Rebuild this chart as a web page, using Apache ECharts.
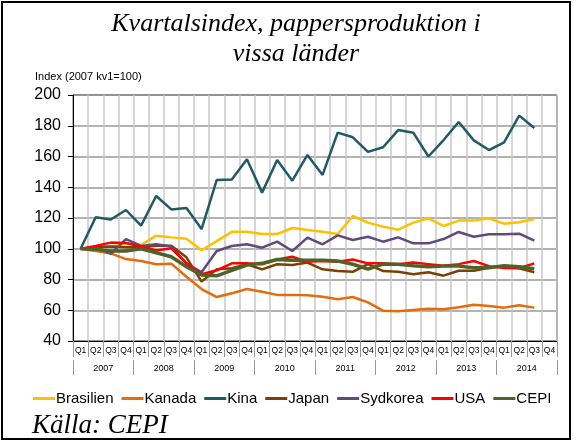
<!DOCTYPE html>
<html>
<head>
<meta charset="utf-8">
<script src="https://cdn.jsdelivr.net/npm/echarts@6/dist/echarts.min.js"></script>
<style>
  html, body { margin: 0; padding: 0; background: #fff; }
  #chart { width: 573px; height: 442px; }
</style>
</head>
<body>
<div id="chart"></div>
<script>
// kategorier
const years = ['2007', '2008', '2009', '2010', '2011', '2012', '2013', '2014']
const quarters = []
years.forEach(() => quarters.push('Q1', 'Q2', 'Q3', 'Q4'))

// serier (index 2007 kv1 = 100), Q4 2014 saknas
const brasilien = [100, 101, 101.4, 103.5, 102.4, 108.5, 107.4, 106.5, 99, 105, 111, 111, 109.6, 109.6, 113.5, 112.2,
  111, 109.6, 121.3, 117, 114.4, 112.4, 117, 119.8, 114.8, 118.3, 118.3, 119.8, 116.3, 117.2, 119.4]
const kanada = [100, 98.5, 97, 93.3, 92, 89.9, 90.3, 81.8, 73.8, 68.6, 71, 73.8, 72, 70, 70, 69.7,
  68.8, 67.1, 68.6, 65.1, 59.7, 59.3, 60.2, 61, 60.6, 61.9, 63.6, 62.7, 61.7, 63.2, 61.7]
const kina = [100, 120.5, 119, 125.2, 115, 134.3, 125.6, 126.5, 112.8, 144.7, 145, 158.2, 136.5, 157.7, 144.3, 161,
  148, 175.5, 172.5, 163, 166, 177.2, 175.5, 160, 170.7, 182.4, 170.5, 164.2, 169.2, 186.6, 178.5]
const japan = [100, 101, 101.4, 101, 101, 102, 102, 94.4, 78.6, 86.6, 87.3, 89.9, 86.6, 89.9, 89.4, 91,
  86.6, 85.5, 85, 90, 85.5, 85, 83.4, 84.7, 82.5, 85.7, 85.7, 87.7, 88.7, 87.3, 84.7]
const sydkorea = [100, 101, 96.6, 106.3, 101.8, 102.9, 101.4, 90.5, 84.7, 98.5, 101.8, 102.9, 100.7, 104.6, 98.5, 107.2,
  102.9, 108.7, 105.7, 107.8, 104.6, 107.4, 103.5, 103.5, 106.3, 110.9, 107.8, 109.4, 109.4, 109.8, 105.3]
const usa = [100, 101.8, 104, 103.7, 101.5, 98.9, 100.3, 90.5, 83.4, 86, 90.5, 90.5, 89.9, 93, 94.8, 91.5,
  92, 91.5, 93, 90.5, 90.5, 89.9, 91, 90, 89, 90, 92, 88.7, 87.5, 87.3, 90.5]
const cepi = [100, 99.6, 98.5, 98.5, 100, 97.4, 94.8, 88.3, 82.9, 82.4, 86, 89.4, 90.5, 93, 92.5, 92.5,
  92.5, 92, 89.9, 86.8, 90, 89.9, 89, 88.3, 88.7, 88.7, 87.7, 87.7, 89, 88.3, 87]

const chartInstance = echarts.init(document.getElementById('chart'))

const mkLine = (name, data, color, width) => ({
  type: 'line',
  name: name,
  data: data,
  symbol: 'none',
  xAxisIndex: 0,
  lineStyle: { color: color, width: width },
  itemStyle: { color: color },
})

const option = {
  animation: false,
  title: {
    text: 'Kvartalsindex, pappersproduktion i\nvissa länder',
    left: 291,
    textAlign: 'center',
    top: 4,
    textStyle: {
      fontFamily: 'Liberation Serif',
      fontStyle: 'italic',
      fontWeight: 'normal',
      fontSize: 26,
      lineHeight: 30,
      color: '#000',
    },
  },
  graphic: [
    {
      type: 'rect',
      shape: { x: 2, y: 2, width: 568, height: 437 },
      style: { fill: 'none', stroke: '#000', lineWidth: 2 },
    },
    {
      type: 'text',
      left: 35,
      top: 71,
      style: { text: 'Index (2007 kv1=100)', font: '11px Liberation Sans', fill: '#000' },
    },
    {
      type: 'text',
      left: 32,
      top: 412,
      style: { text: 'Källa: CEPI', font: 'italic 27px Liberation Serif', fill: '#000' },
    },
  ],
  legend: {
    top: 386,
    left: 28,
    icon: 'rect',
    itemWidth: 22,
    itemHeight: 3,
    itemGap: 8,
    textStyle: { fontFamily: 'Liberation Sans', fontSize: 15, color: '#000', padding: [0, 0, 0, -4] },
    data: ['Brasilien', 'Kanada', 'Kina', 'Japan', 'Sydkorea', 'USA', 'CEPI'],
  },
  grid: {
    left: 73,
    right: 16,
    top: 95,
    bottom: 101,
    show: true,
    borderColor: '#000',
    borderWidth: 1,
  },
  xAxis: [
    {
      type: 'category',
      data: quarters,
      boundaryGap: true,
      axisLine: { lineStyle: { color: '#000' } },
      axisTick: { show: true, interval: 0, length: 16, lineStyle: { color: '#999' } },
      axisLabel: { interval: 0, fontFamily: 'Liberation Sans', fontSize: 8.5, color: '#000', margin: 5 },
      splitLine: { show: true, interval: 0, lineStyle: { color: '#c8c8c8', width: 1.5 } },
    },
    {
      type: 'category',
      data: years,
      position: 'bottom',
      offset: 19,
      boundaryGap: true,
      axisLine: { show: false },
      axisTick: { show: true, interval: 0, length: 15, lineStyle: { color: '#999' } },
      axisLabel: { interval: 0, fontFamily: 'Liberation Sans', fontSize: 9, color: '#000', margin: 4 },
      splitLine: { show: false },
    },
  ],
  yAxis: {
    type: 'value',
    min: 40,
    max: 200,
    interval: 20,
    axisLine: { show: true, lineStyle: { color: '#000' } },
    axisTick: { show: true, length: 5, lineStyle: { color: '#000' } },
    axisLabel: { fontFamily: 'Liberation Sans', fontSize: 16, color: '#000', margin: 12 },
    splitLine: { lineStyle: { color: '#999', width: 1.5 } },
  },
  series: [
    mkLine('Brasilien', brasilien, '#FFC000', 2.5),
    mkLine('Kanada', kanada, '#E46C0A', 2.5),
    mkLine('Kina', kina, '#215968', 2.5),
    mkLine('Japan', japan, '#7F3F00', 2.5),
    mkLine('Sydkorea', sydkorea, '#604A7B', 2.5),
    mkLine('USA', usa, '#FF0000', 2.5),
    mkLine('CEPI', cepi, '#4F6228', 3.5),
  ],
}

chartInstance.setOption(option)
</script>
</body>
</html>
